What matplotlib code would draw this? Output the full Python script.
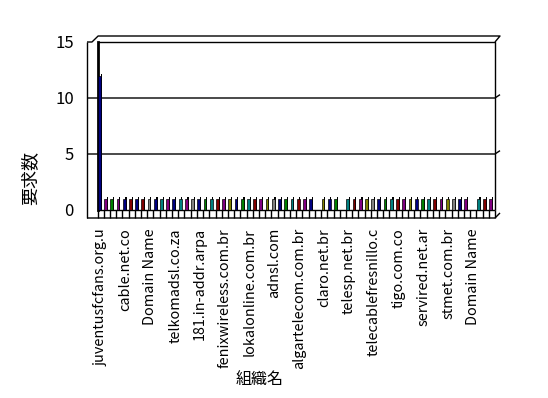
import numpy as np
import matplotlib
matplotlib.use("Agg")
import matplotlib.pyplot as plt

plt.rcParams['font.family'] = ['Noto Sans CJK JP', 'DejaVu Sans']

# request counts per organisation (64 categories, every 4th labelled)
counts = [12, 1, 1, 1, 1, 1, 1, 1, 1, 1, 1, 1, 1, 1, 1, 1,
          1, 1, 1, 1, 1, 1, 1, 1, 1, 1, 1, 1, 1, 1, 1, 1,
          1, 1, 1, 0, 1, 1, 1, 0, 1, 1, 1, 1, 1, 1, 1, 1,
          1, 1, 1, 1, 1, 1, 1, 1, 1, 1, 1, 1, 0, 1, 1, 1]
tick_labels = ["juventusfcfans.org.u", "cable.net.co", "Domain Name", "telkomadsl.co.za",
               "181.in-addr.arpa", "fenixwireless.com.br", "lokalonline.com.br", "adnsl.com",
               "algartelecom.com.br", "claro.net.br", "telesp.net.br", "telecablefresnillo.c",
               "tigo.com.co", "servired.net.ar", "stmet.com.br", "Domain Name"]
bar_colors = ["#000080", "#800080", "#008000", "#800080", "#000080", "#800000", "#000080", "#800000",
              "#808080", "#000080", "#008080", "#800080", "#000080", "#008080", "#800080", "#808080",
              "#000080", "#008000", "#008080", "#800000", "#800080", "#808000", "#000080", "#008000",
              "#008080", "#800000", "#800080", "#808000", "#808080", "#000080", "#008000", "#008080",
              "#800000", "#800080", "#000080", "#808000", "#808000", "#000080", "#008000", "#008080",
              "#008080", "#800000", "#800080", "#808000", "#808080", "#000080", "#008000", "#008080",
              "#800000", "#800080", "#808000", "#000080", "#008000", "#008080", "#800000", "#800080",
              "#808000", "#808080", "#000080", "#800080", "#008080", "#008080", "#800000", "#800080"]
yticks = [0, 5, 10, 15]

W, H = 548, 398
fig = plt.figure(figsize=(W / 100, H / 100), dpi=100)
fig.patch.set_facecolor("white")
ax = fig.add_axes([97.5 / W, (H - 210) / H, (495 - 97.5) / W, (210 - 42) / H])

n = len(counts)
x = np.arange(n)
xl, xr = -0.5, n - 0.5
ax.set_xlim(xl, xr)
ax.set_ylim(0, 15)

# 3D look: unit sizes in pixels
u = (495 - 97.5) / n
v = 168 / 15
ox = xl - 10.5 / u      # front-left edge
yb = -8 / v             # front floor edge
yt = 15 + 6 / v         # top outer edge
xe = xr + 5 / u         # right outer edge

k = dict(color="black", lw=1, clip_on=False, solid_capstyle="butt")
# back wall
ax.plot([xl, xr, xr], [15, 15, 0], **k)
ax.plot([xl, xl], [15, 0], color="black", lw=2, clip_on=False)
ax.plot([xl, xr], [0, 0], **k)
# side wall and outer frame
ax.plot([ox, ox], [15, yb], **k)
ax.plot([ox, xr, xe], [yb, yb, yb + 0.45], **k)
ax.plot([ox, ox + 0.8, xl + 0.1, xe, xr], [15, 15, yt, yt, 15], **k)
for g in [5, 10]:
    ax.plot([ox, xr, xe], [g, g, g + 0.3], **k)
# floor cells
for i in range(n + 1):
    ax.plot([xl + i, xl + i], [0, yb], **k)

# bars: dark side + coloured front
shift = -0.2
ax.bar(x + shift + 0.28, [c + 0.12 if c else 0 for c in counts], width=0.18,
       color="black", zorder=2)
ax.bar(x + shift, counts, width=0.45, color=bar_colors, edgecolor="black",
       linewidth=0.5, zorder=3)

for s in ax.spines.values():
    s.set_visible(False)
ax.set_xticks(x[::4])
ax.set_xticklabels(tick_labels, rotation=90, fontsize=10.4)
ax.set_yticks(yticks)
ax.set_yticklabels([str(t) for t in yticks], fontsize=12)
ax.tick_params(axis="x", length=0, pad=13)
ax.tick_params(axis="y", length=0, pad=17)

fig.text(30 / W, 1 - 178 / H, "要求数", rotation=90, ha="center", va="center", fontsize=13)
fig.text(260 / W, 1 - 379 / H, "組織名", ha="center", va="center", fontsize=11.5)

fig.savefig("out.png", dpi=100)
